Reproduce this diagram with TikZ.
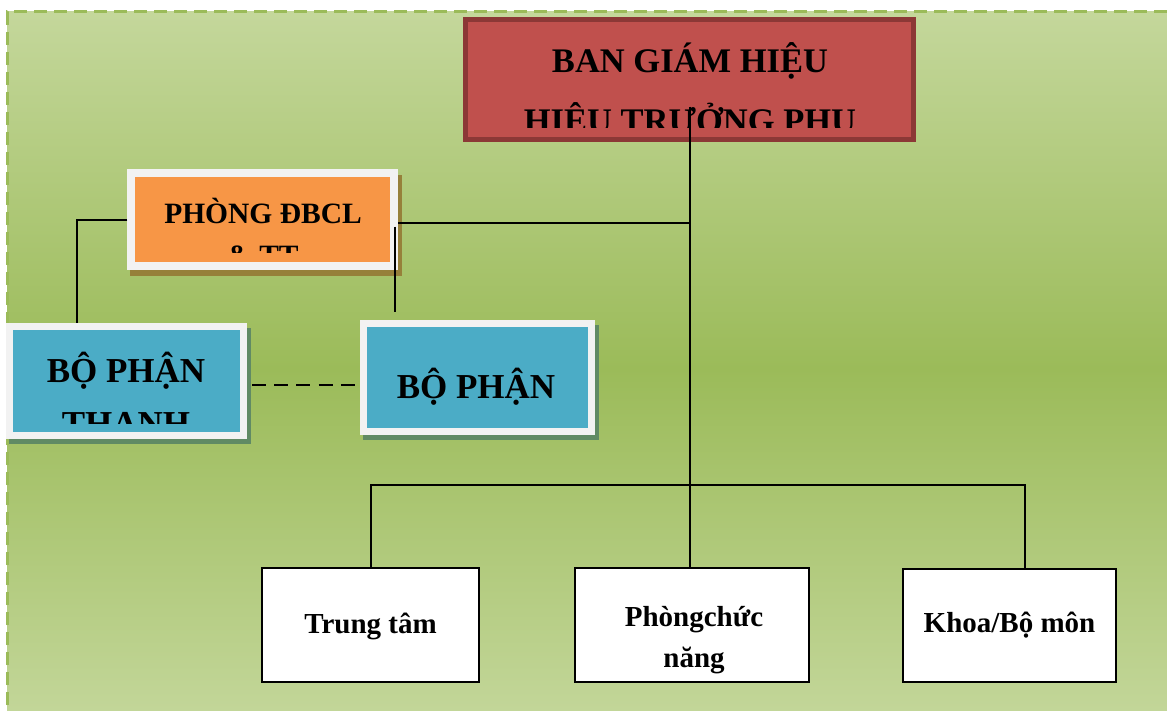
\documentclass[tikz,border=0pt]{standalone}
\usepackage{fontspec}
\setmainfont{Liberation Serif}
\usetikzlibrary{backgrounds}
\definecolor{bgpale}{RGB}{196,215,155}
\definecolor{bgdeep}{RGB}{155,187,89}
\definecolor{banred}{RGB}{192,80,77}
\definecolor{banedge}{RGB}{140,56,54}
\definecolor{qaorange}{RGB}{247,150,70}
\definecolor{unitblue}{RGB}{75,172,198}
\definecolor{framegray}{RGB}{242,242,242}
\definecolor{qashade}{RGB}{150,128,58}
\definecolor{unitshade}{RGB}{96,138,100}

\begin{document}
\begin{tikzpicture}[x=1pt,y=-1pt]
        \tikzstyle{board}=[rectangle,fill=banred,draw=banedge,line width=5pt,inner sep=0pt]
        \tikzstyle{office}=[rectangle,fill=qaorange,draw=framegray,line width=8pt,inner sep=0pt]
        \tikzstyle{unit}=[rectangle,fill=unitblue,draw=framegray,line width=7pt,inner sep=0pt]
        \tikzstyle{dept}=[rectangle,fill=white,draw=black,line width=2pt,inner sep=0pt,minimum height=114pt]
        \tikzstyle{bigtext}=[font=\fontsize{34.5}{60}\selectfont\bfseries,align=center,anchor=base,inner sep=0pt]
        \tikzstyle{midtext}=[font=\fontsize{29.5}{43}\selectfont\bfseries,align=center,anchor=base,inner sep=0pt]
        \tikzstyle{smalltext}=[font=\fontsize{29}{41}\selectfont\bfseries,align=center,anchor=base,inner sep=0pt]
        \tikzstyle{link}=[draw=black,line width=2pt]
        \useasboundingbox (0,0) rectangle (1167,711);

        % page and dashed frame
        \begin{scope}[on background layer]
          \fill[white] (0,0) rectangle (1167,711);
          \shade[top color=bgpale,bottom color=bgpale,middle color=bgdeep] (7,12) rectangle (1180,725);
          \draw[bgdeep,line width=3pt,dash pattern=on 13pt off 7pt] (7,725) -- (7,12) -- (1180,12);
        \end{scope}

        % boxes
        \node [board] (ban) at (689.5,79.3) [minimum width=448pt,minimum height=119.7pt] {};
        \node [office] (dbcl) at (262.8,219.7) [minimum width=263pt,minimum height=92.7pt] {};
        \node [unit] (bpthanh) at (126.5,381) [minimum width=234pt,minimum height=109pt] {};
        \node [unit] (bophan) at (477.3,377.5) [minimum width=227.6pt,minimum height=108pt] {};
        \node [dept] (trungtam) at (370.5,625) [minimum width=217pt] {};
        \node [dept] (phong) at (692,625) [minimum width=234pt] {};
        \node [dept] (khoa) at (1009.3,625.5) [minimum width=213.4pt,minimum height=113pt] {};

        \begin{scope}[on background layer]
          \fill[qashade] ([shift={(3pt,-6pt)}]dbcl.north west) rectangle ([shift={(4pt,-6pt)}]dbcl.south east);
          \fill[unitshade] ([shift={(3pt,-5pt)}]bpthanh.north west) rectangle ([shift={(4pt,-5pt)}]bpthanh.south east);
          \fill[unitshade] ([shift={(3pt,-5pt)}]bophan.north west) rectangle ([shift={(4pt,-5pt)}]bophan.south east);
        \end{scope}

        % texts (base = last line)
        \begin{scope}
          \clip (468,22) rectangle (911,128);
          \node [bigtext] (bantxt) at (690,133) {BAN GIÁM HIỆU\\HIỆU TRƯỞNG PHỤ};
        \end{scope}
        \begin{scope}
          \clip (135,177) rectangle (391,253);
          \node [midtext] (dbcltxt) at (263,266) {PHÒNG ĐBCL\\\& TT};
        \end{scope}
        \begin{scope}
          \clip (13,332) rectangle (239,423);
          \node [bigtext,font=\fontsize{35}{53}\selectfont\bfseries] (bpthanhtxt) at (126,435) {BỘ PHẬN\\THANH};
        \end{scope}
        \node [bigtext,font=\fontsize{35}{53}\selectfont\bfseries] (bophantxt) at (476,398) {BỘ PHẬN};
        \node [smalltext] (trungtamtxt) at (370.5,633) {Trung tâm};
        \node [smalltext] (phongtxt) at (694,667) {Phòngchức\\năng};
        \node [smalltext] (khoatxt) at (1009.5,632) {Khoa/Bộ môn};

        % connectors
        \coordinate (qa out) at ([yshift=-3pt]dbcl.east);
        \coordinate (qa drop) at ([shift={(-3pt,-7pt)}]dbcl.east);
        \coordinate (unit top) at ([yshift=8pt]bophan.north);
        \coordinate (peer) at ([shift={(5pt,-4pt)}]bpthanh.east);
        \coordinate (peer end) at ([xshift=-5pt]bophan.west);
        \coordinate (bus) at (0,485);
        \coordinate (khoa in) at ([xshift=15.7pt]khoa.north);

        \path[link] ([yshift=35pt]ban.south) -- (ban.south |- phong.north);
        \path[link] (qa out) -- (qa out -| ban.south);
        \path[link] (dbcl.west) -| ([xshift=-49.5pt]bpthanh.north);
        \path[link] (qa drop) -- (qa drop |- unit top);
        \path[link,dash pattern=on 14pt off 8.2pt] (peer) -- (peer -| peer end);
        \path[link] (trungtam.north) |- (khoa in |- bus) -- (khoa in);
\end{tikzpicture}
\end{document}
